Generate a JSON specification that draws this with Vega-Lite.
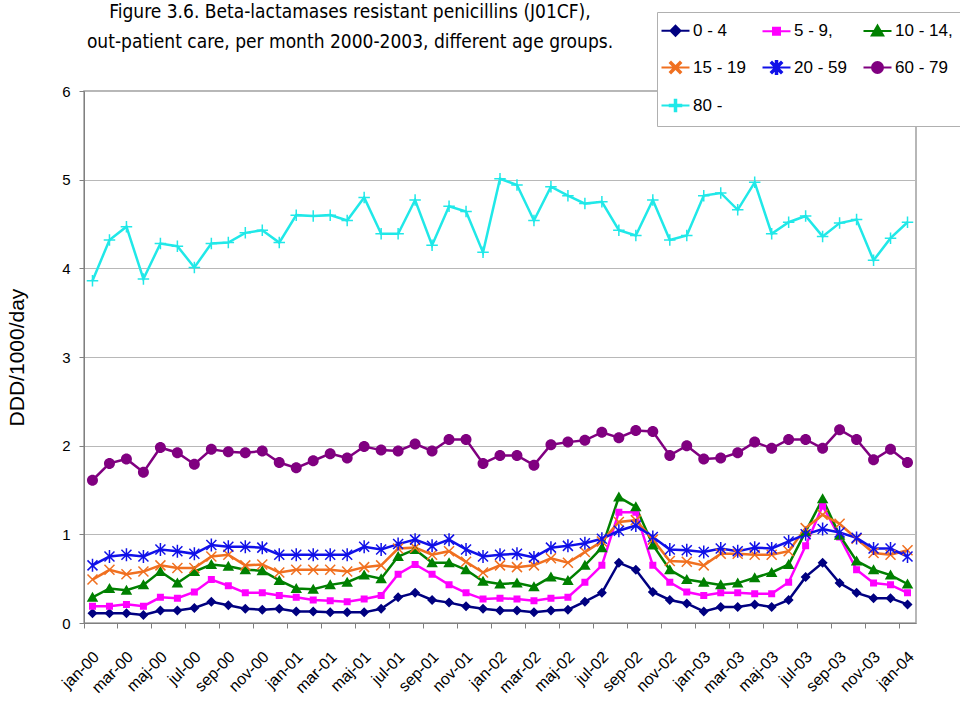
{
  "$schema": "https://vega.github.io/schema/vega-lite/v6.json",
  "width": 832,
  "height": 532,
  "autosize": "none",
  "padding": {"left": 84, "top": 91, "right": 44, "bottom": 81},
  "background": "white",
  "config": {
    "view": {"stroke": "#a0a0a0", "strokeWidth": 1.5},
    "font": "Liberation Sans"
  },
  "title": {
    "text": ["Figure 3.6. Beta-lactamases resistant penicillins (J01CF),", "out-patient care, per month 2000-2003, different age groups."],
    "anchor": "start",
    "frame": "group",
    "align": "center",
    "dx": 266,
    "baseline": "bottom",
    "offset": -59,
    "font": "DejaVu Sans Condensed, Liberation Sans",
    "fontSize": 19,
    "fontWeight": "normal",
    "lineHeight": 30,
    "color": "black"
  },
  "data": {
    "values": [
      {"m":"jan-00","0 - 4":0.11,"5 - 9,":0.19,"10 - 14,":0.29,"15 - 19":0.49,"20 - 59":0.65,"60 - 79":1.61,"80 -":3.86},
      {"m":"feb-00","0 - 4":0.11,"5 - 9,":0.19,"10 - 14,":0.39,"15 - 19":0.60,"20 - 59":0.75,"60 - 79":1.80,"80 -":4.32},
      {"m":"mar-00","0 - 4":0.11,"5 - 9,":0.21,"10 - 14,":0.37,"15 - 19":0.55,"20 - 59":0.77,"60 - 79":1.85,"80 -":4.47},
      {"m":"apr-00","0 - 4":0.09,"5 - 9,":0.19,"10 - 14,":0.43,"15 - 19":0.58,"20 - 59":0.75,"60 - 79":1.70,"80 -":3.88},
      {"m":"maj-00","0 - 4":0.14,"5 - 9,":0.29,"10 - 14,":0.58,"15 - 19":0.65,"20 - 59":0.83,"60 - 79":1.98,"80 -":4.28},
      {"m":"jun-00","0 - 4":0.14,"5 - 9,":0.28,"10 - 14,":0.45,"15 - 19":0.62,"20 - 59":0.81,"60 - 79":1.92,"80 -":4.25},
      {"m":"jul-00","0 - 4":0.17,"5 - 9,":0.35,"10 - 14,":0.58,"15 - 19":0.62,"20 - 59":0.78,"60 - 79":1.79,"80 -":4.01},
      {"m":"aug-00","0 - 4":0.24,"5 - 9,":0.49,"10 - 14,":0.66,"15 - 19":0.75,"20 - 59":0.88,"60 - 79":1.96,"80 -":4.28},
      {"m":"sep-00","0 - 4":0.20,"5 - 9,":0.42,"10 - 14,":0.64,"15 - 19":0.77,"20 - 59":0.86,"60 - 79":1.93,"80 -":4.29},
      {"m":"okt-00","0 - 4":0.16,"5 - 9,":0.34,"10 - 14,":0.60,"15 - 19":0.65,"20 - 59":0.86,"60 - 79":1.92,"80 -":4.40},
      {"m":"nov-00","0 - 4":0.15,"5 - 9,":0.34,"10 - 14,":0.59,"15 - 19":0.66,"20 - 59":0.85,"60 - 79":1.94,"80 -":4.43},
      {"m":"dec-00","0 - 4":0.16,"5 - 9,":0.31,"10 - 14,":0.48,"15 - 19":0.57,"20 - 59":0.77,"60 - 79":1.81,"80 -":4.29},
      {"m":"jan-01","0 - 4":0.13,"5 - 9,":0.29,"10 - 14,":0.39,"15 - 19":0.60,"20 - 59":0.77,"60 - 79":1.75,"80 -":4.60},
      {"m":"feb-01","0 - 4":0.13,"5 - 9,":0.26,"10 - 14,":0.38,"15 - 19":0.60,"20 - 59":0.77,"60 - 79":1.83,"80 -":4.59},
      {"m":"mar-01","0 - 4":0.12,"5 - 9,":0.25,"10 - 14,":0.43,"15 - 19":0.60,"20 - 59":0.77,"60 - 79":1.91,"80 -":4.60},
      {"m":"apr-01","0 - 4":0.12,"5 - 9,":0.24,"10 - 14,":0.46,"15 - 19":0.58,"20 - 59":0.77,"60 - 79":1.86,"80 -":4.54},
      {"m":"maj-01","0 - 4":0.12,"5 - 9,":0.27,"10 - 14,":0.54,"15 - 19":0.63,"20 - 59":0.86,"60 - 79":1.99,"80 -":4.80},
      {"m":"jun-01","0 - 4":0.16,"5 - 9,":0.31,"10 - 14,":0.50,"15 - 19":0.65,"20 - 59":0.83,"60 - 79":1.95,"80 -":4.39},
      {"m":"jul-01","0 - 4":0.29,"5 - 9,":0.55,"10 - 14,":0.75,"15 - 19":0.84,"20 - 59":0.89,"60 - 79":1.94,"80 -":4.39},
      {"m":"aug-01","0 - 4":0.34,"5 - 9,":0.66,"10 - 14,":0.83,"15 - 19":0.85,"20 - 59":0.94,"60 - 79":2.02,"80 -":4.77},
      {"m":"sep-01","0 - 4":0.26,"5 - 9,":0.55,"10 - 14,":0.68,"15 - 19":0.77,"20 - 59":0.87,"60 - 79":1.94,"80 -":4.26},
      {"m":"okt-01","0 - 4":0.23,"5 - 9,":0.43,"10 - 14,":0.68,"15 - 19":0.81,"20 - 59":0.94,"60 - 79":2.07,"80 -":4.70},
      {"m":"nov-01","0 - 4":0.19,"5 - 9,":0.34,"10 - 14,":0.60,"15 - 19":0.69,"20 - 59":0.83,"60 - 79":2.07,"80 -":4.64},
      {"m":"dec-01","0 - 4":0.16,"5 - 9,":0.27,"10 - 14,":0.47,"15 - 19":0.57,"20 - 59":0.75,"60 - 79":1.80,"80 -":4.18},
      {"m":"jan-02","0 - 4":0.14,"5 - 9,":0.28,"10 - 14,":0.44,"15 - 19":0.65,"20 - 59":0.77,"60 - 79":1.89,"80 -":5.01},
      {"m":"feb-02","0 - 4":0.14,"5 - 9,":0.27,"10 - 14,":0.45,"15 - 19":0.63,"20 - 59":0.78,"60 - 79":1.89,"80 -":4.94},
      {"m":"mar-02","0 - 4":0.12,"5 - 9,":0.25,"10 - 14,":0.41,"15 - 19":0.65,"20 - 59":0.74,"60 - 79":1.78,"80 -":4.54},
      {"m":"apr-02","0 - 4":0.14,"5 - 9,":0.28,"10 - 14,":0.52,"15 - 19":0.73,"20 - 59":0.85,"60 - 79":2.01,"80 -":4.92},
      {"m":"maj-02","0 - 4":0.15,"5 - 9,":0.29,"10 - 14,":0.48,"15 - 19":0.68,"20 - 59":0.87,"60 - 79":2.04,"80 -":4.82},
      {"m":"jun-02","0 - 4":0.24,"5 - 9,":0.46,"10 - 14,":0.65,"15 - 19":0.80,"20 - 59":0.90,"60 - 79":2.06,"80 -":4.73},
      {"m":"jul-02","0 - 4":0.34,"5 - 9,":0.65,"10 - 14,":0.85,"15 - 19":0.92,"20 - 59":0.95,"60 - 79":2.15,"80 -":4.75},
      {"m":"aug-02","0 - 4":0.68,"5 - 9,":1.25,"10 - 14,":1.42,"15 - 19":1.14,"20 - 59":1.04,"60 - 79":2.09,"80 -":4.43},
      {"m":"sep-02","0 - 4":0.60,"5 - 9,":1.25,"10 - 14,":1.31,"15 - 19":1.16,"20 - 59":1.10,"60 - 79":2.17,"80 -":4.37},
      {"m":"okt-02","0 - 4":0.35,"5 - 9,":0.65,"10 - 14,":0.88,"15 - 19":0.94,"20 - 59":0.97,"60 - 79":2.16,"80 -":4.77},
      {"m":"nov-02","0 - 4":0.26,"5 - 9,":0.46,"10 - 14,":0.60,"15 - 19":0.70,"20 - 59":0.83,"60 - 79":1.89,"80 -":4.32},
      {"m":"dec-02","0 - 4":0.22,"5 - 9,":0.35,"10 - 14,":0.49,"15 - 19":0.69,"20 - 59":0.82,"60 - 79":2.00,"80 -":4.37},
      {"m":"jan-03","0 - 4":0.13,"5 - 9,":0.31,"10 - 14,":0.46,"15 - 19":0.65,"20 - 59":0.80,"60 - 79":1.85,"80 -":4.82},
      {"m":"feb-03","0 - 4":0.18,"5 - 9,":0.34,"10 - 14,":0.43,"15 - 19":0.78,"20 - 59":0.84,"60 - 79":1.86,"80 -":4.85},
      {"m":"mar-03","0 - 4":0.18,"5 - 9,":0.34,"10 - 14,":0.45,"15 - 19":0.78,"20 - 59":0.81,"60 - 79":1.92,"80 -":4.66},
      {"m":"apr-03","0 - 4":0.21,"5 - 9,":0.33,"10 - 14,":0.51,"15 - 19":0.77,"20 - 59":0.85,"60 - 79":2.04,"80 -":4.97},
      {"m":"maj-03","0 - 4":0.18,"5 - 9,":0.33,"10 - 14,":0.57,"15 - 19":0.77,"20 - 59":0.84,"60 - 79":1.97,"80 -":4.39},
      {"m":"jun-03","0 - 4":0.26,"5 - 9,":0.46,"10 - 14,":0.66,"15 - 19":0.81,"20 - 59":0.92,"60 - 79":2.07,"80 -":4.52},
      {"m":"jul-03","0 - 4":0.52,"5 - 9,":0.87,"10 - 14,":1.03,"15 - 19":1.07,"20 - 59":1.00,"60 - 79":2.07,"80 -":4.59},
      {"m":"aug-03","0 - 4":0.68,"5 - 9,":1.32,"10 - 14,":1.40,"15 - 19":1.22,"20 - 59":1.06,"60 - 79":1.97,"80 -":4.36},
      {"m":"sep-03","0 - 4":0.45,"5 - 9,":0.97,"10 - 14,":0.99,"15 - 19":1.12,"20 - 59":1.02,"60 - 79":2.18,"80 -":4.51},
      {"m":"okt-03","0 - 4":0.34,"5 - 9,":0.60,"10 - 14,":0.70,"15 - 19":0.95,"20 - 59":0.96,"60 - 79":2.07,"80 -":4.55},
      {"m":"nov-03","0 - 4":0.28,"5 - 9,":0.45,"10 - 14,":0.60,"15 - 19":0.79,"20 - 59":0.84,"60 - 79":1.84,"80 -":4.09},
      {"m":"dec-03","0 - 4":0.28,"5 - 9,":0.43,"10 - 14,":0.54,"15 - 19":0.77,"20 - 59":0.84,"60 - 79":1.96,"80 -":4.34},
      {"m":"jan-04","0 - 4":0.21,"5 - 9,":0.34,"10 - 14,":0.44,"15 - 19":0.82,"20 - 59":0.75,"60 - 79":1.81,"80 -":4.52}
    ]
  },
  "transform": [
    {"fold": ["0 - 4", "5 - 9,", "10 - 14,", "15 - 19", "20 - 59", "60 - 79", "80 -"], "as": ["group", "value"]}
  ],
  "encoding": {
    "x": {
      "field": "m",
      "type": "ordinal",
      "sort": null,
      "scale": {"type": "band", "paddingInner": 0, "paddingOuter": 0},
      "axis": {
        "title": null,
        "values": ["jan-00","mar-00","maj-00","jul-00","sep-00","nov-00","jan-01","mar-01","maj-01","jul-01","sep-01","nov-01","jan-02","mar-02","maj-02","jul-02","sep-02","nov-02","jan-03","mar-03","maj-03","jul-03","sep-03","nov-03","jan-04"],
        "bandPosition": 0,
        "labelOffset": 4,
        "labelAngle": -45,
        "labelAlign": "right",
        "labelBaseline": "middle",
        "labelPadding": 26,
        "labelFont": "Liberation Sans",
        "labelFontSize": 16,
        "labelColor": "black",
        "domainColor": "#808080",
        "tickColor": "#808080",
        "tickSize": 5,
        "grid": false,
        "labelOverlap": false
      }
    },
    "y": {
      "field": "value",
      "type": "quantitative",
      "scale": {"domain": [0, 6], "nice": false},
      "axis": {
        "title": "DDD/1000/day",
        "titleFont": "Liberation Sans",
        "titleFontSize": 21,
        "titleFontWeight": "normal",
        "titleColor": "black",
        "titlePadding": 34,
        "values": [0, 1, 2, 3, 4, 5, 6],
        "format": "d",
        "labelFont": "Liberation Sans",
        "labelFontSize": 15,
        "labelColor": "black",
        "labelPadding": 9,
        "domainColor": "#808080",
        "tickColor": "#808080",
        "tickSize": 5,
        "grid": true,
        "gridColor": "#b8b8b8",
        "gridWidth": 1.2
      }
    },
    "color": {
      "field": "group",
      "type": "nominal",
      "scale": {
        "domain": ["0 - 4", "5 - 9,", "10 - 14,", "15 - 19", "20 - 59", "60 - 79", "80 -"],
        "range": ["#000080", "#FF00FF", "#008000", "#F07020", "#1010E8", "#800080", "#20E8E8"]
      },
      "legend": {
        "title": null,
        "orient": "none",
        "legendX": 573,
        "legendY": -79,
        "direction": "horizontal",
        "columns": 3,
        "columnPadding": 12,
        "rowPadding": 17,
        "padding": 10,
        "strokeColor": "#b0b0b0",
        "fillColor": "white",
        "symbolSize": 100,
        "symbolStrokeWidth": 2,
        "symbolOpacity": 1,
        "symbolOffset": 0,
        "labelFont": "Liberation Sans",
        "labelFontSize": 17,
        "labelColor": "black",
        "labelOffset": 9
      }
    }
  },
  "layer": [
    {
      "mark": {"type": "line", "strokeWidth": 2.5}
    },
    {
      "mark": {"type": "point", "filled": true, "opacity": 1, "size": 100},
      "encoding": {
        "shape": {
          "field": "group",
          "type": "nominal",
          "scale": {
            "domain": ["0 - 4", "5 - 9,", "10 - 14,", "15 - 19", "20 - 59", "60 - 79", "80 -"],
            "range": [
              "M-2.8,0L2.8,0M0,-1L1,0L0,1L-1,0Z",
              "M-2.8,0L2.8,0M-0.7,-0.7L0.7,-0.7L0.7,0.7L-0.7,0.7Z",
              "M-2.8,0L2.8,0M0,-1.1L1.15,0.9L-1.15,0.9Z",
              "M-2.8,0L2.8,0M-0.894,-1.106L1.106,0.894L0.894,1.106L-1.106,-0.894ZM-0.894,1.106L-1.106,0.894L0.894,-1.106L1.106,-0.894Z",
              "M-2.8,0L2.8,0M-0.894,-1.106L1.106,0.894L0.894,1.106L-1.106,-0.894ZM-0.894,1.106L-1.106,0.894L0.894,-1.106L1.106,-0.894ZM-0.15,-1.3L0.15,-1.3L0.15,1.3L-0.15,1.3Z",
              "M-2.8,0L2.8,0M-1.1,0A1.1,1.1,0,1,0,1.1,0A1.1,1.1,0,1,0,-1.1,0Z",
              "M-2.8,0L2.8,0M-0.15,-1.15L0.15,-1.15L0.15,1.15L-0.15,1.15ZM-1.15,-0.15L1.15,-0.15L1.15,0.15L-1.15,0.15Z"
            ]
          },
          "legend": null
        }
      }
    }
  ]
}
